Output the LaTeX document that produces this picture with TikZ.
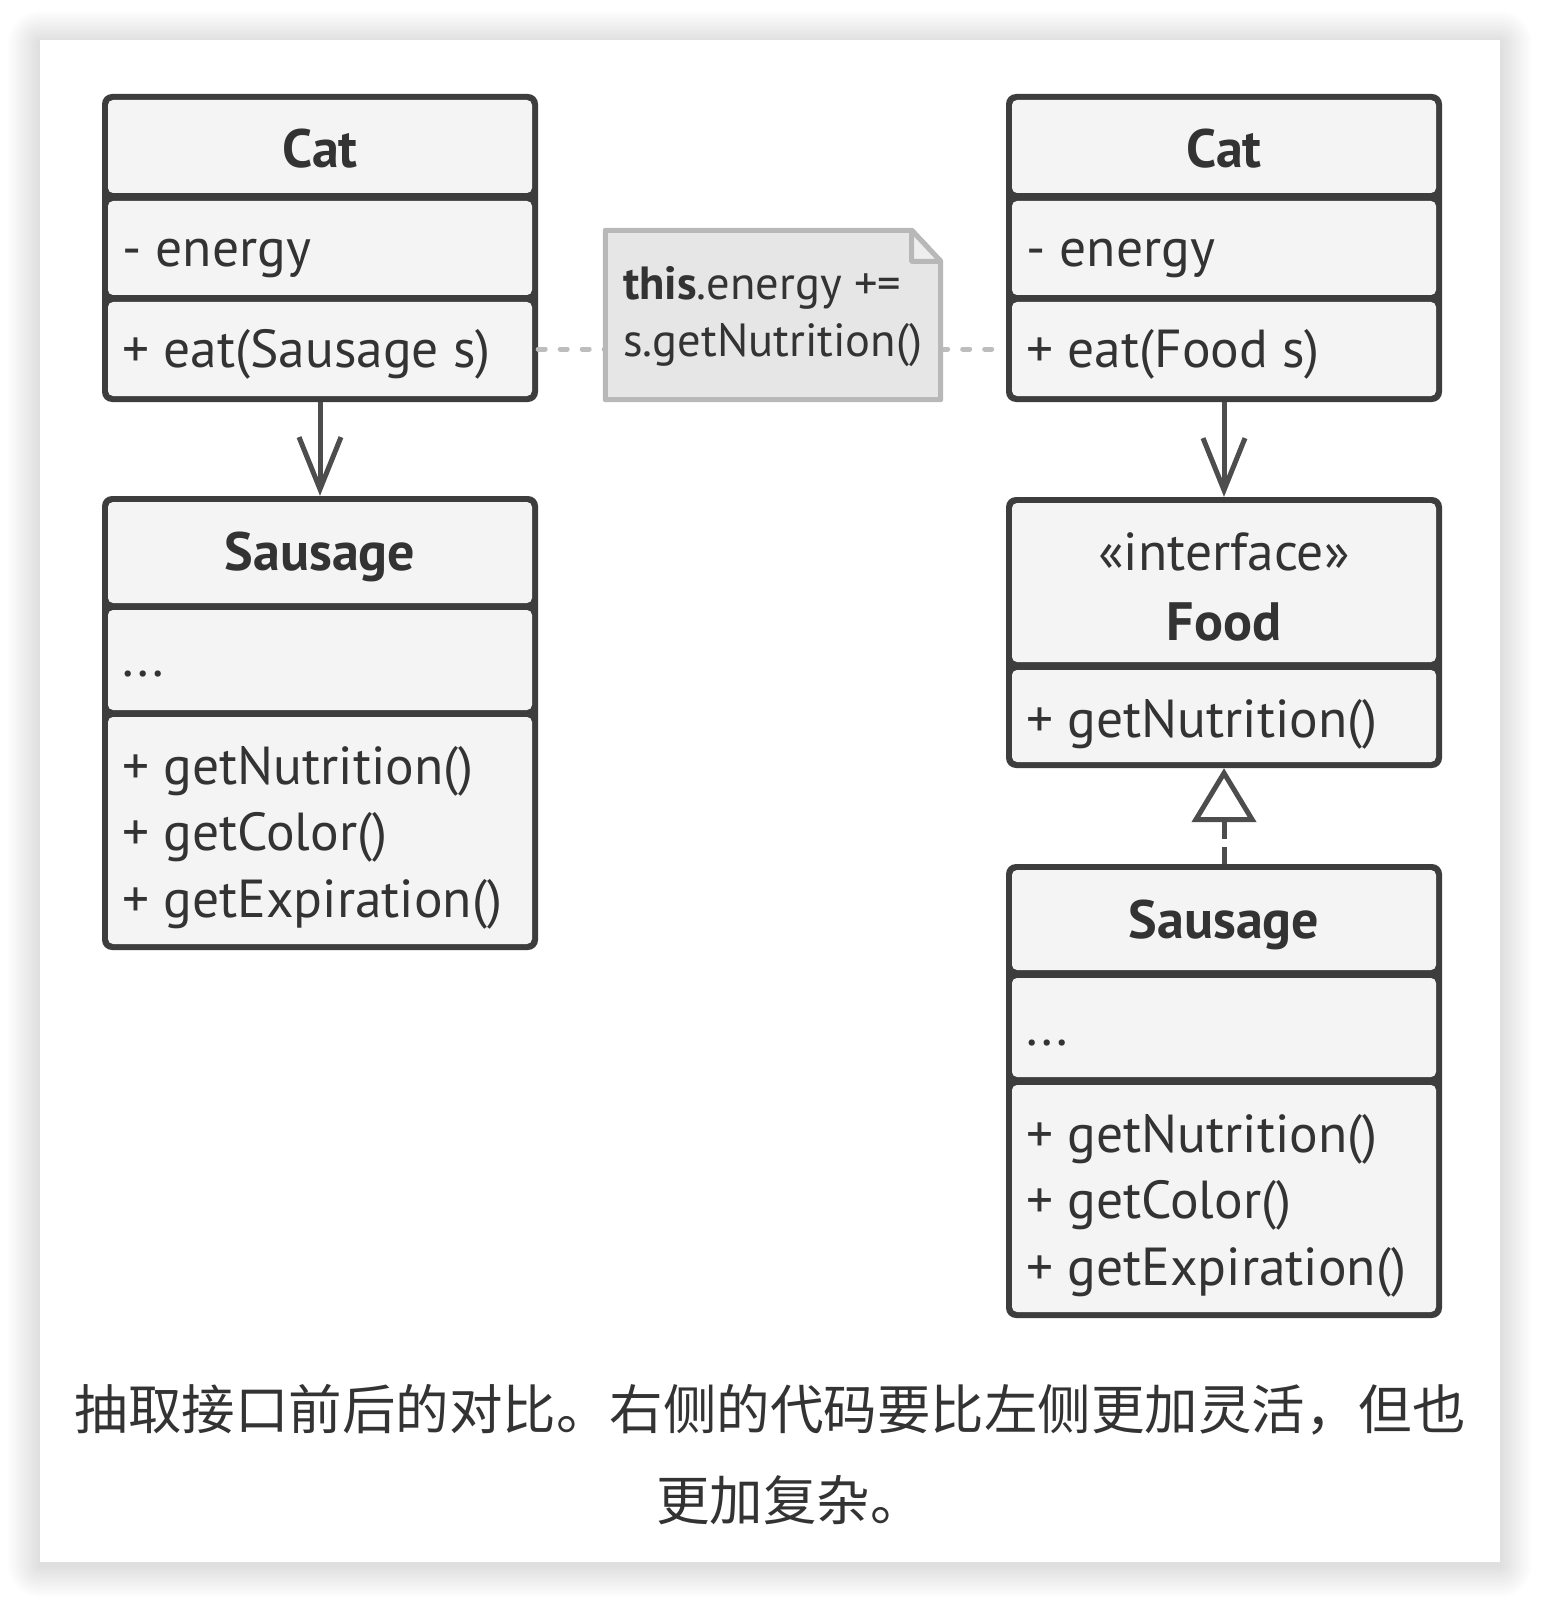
\documentclass[tikz,border=0pt]{standalone}
\usepackage{fontspec}
\setmainfont{PT Sans}
\newfontfamily\cjk{Noto Sans CJK SC}
\usetikzlibrary{arrows.meta,fit}
\definecolor{ink}{HTML}{333333}
\definecolor{boxline}{HTML}{3D3D3D}
\definecolor{compfill}{HTML}{F4F4F4}
\definecolor{arrowc}{HTML}{4D4D4D}
\definecolor{notefill}{HTML}{E6E6E6}
\definecolor{notefold}{HTML}{EEEEEE}
\definecolor{noteline}{HTML}{B8B8B8}
\definecolor{dashc}{HTML}{BDBDBD}
\tikzset{
  classbox/.style={fill=boxline, rounded corners=10pt, inner sep=0pt},
  comp/.style={fill=compfill, rounded corners=5pt, inner sep=0pt},
  classname/.style={font=\fontsize{54}{60}\selectfont\bfseries, text=ink, inner sep=0pt, anchor=base},
  stereo/.style={font=\fontsize{53.5}{60}\selectfont, text=ink, inner sep=0pt, anchor=base},
  member/.style={font=\fontsize{53.5}{66}\selectfont, text=ink, inner sep=0pt, anchor=base west},
  notetext/.style={font=\fontsize{46.5}{57}\selectfont, text=ink, inner sep=0pt, anchor=base west},
  caption/.style={font=\cjk\fontsize{53.5}{91}\selectfont, text=ink, inner sep=0pt, anchor=base},
  assoc/.style={draw=arrowc, line width=5pt, -{Straight Barb[length=52pt,width=42pt,line width=5pt]}},
  realize/.style={draw=arrowc, line width=5pt, dash pattern=on 17pt off 8pt, -{Triangle[length=54pt,width=64pt,line width=5pt,fill=white]}},
  notelink/.style={draw=dashc, line width=5pt, line cap=round, dash pattern=on 7pt off 15pt},
}
\begin{document}
\begin{tikzpicture}[x=1pt,y=-1pt]
\useasboundingbox (0,0) rectangle (1540,1602);
\fill[white] (0,0) rectangle (1540,1602);
% card shadow
\foreach \i in {1,...,16}{
  \fill[black, opacity=0.006, rounded corners=2*\i] (40-2*\i,40-2*\i+3) rectangle (1500+2*\i,1562+2*\i+3);
}
\fill[white] (40,40) rectangle (1500,1562);

% ---------- note placeholder ----------
\node[inner sep=0pt, minimum width=335pt, minimum height=169pt] (note) at (773,315) {};
% ---------- Left Cat ----------
\node[classbox, fit={(102,94) (538,402)}] (cat1) {};
\node[comp, fit={(108,100) (532,193)}] (cat1t) {};
\node[comp, fit={(108,201) (532,295)}] (cat1a) {};
\node[comp, fit={(108,302) (532,396)}] (cat1m) {};
\node[classname] (cat1n) at (320,168) {Cat};
\node[member] (cat1e) at (122,267) {- energy};
\node[member] (cat1f) at (122,367) {+ eat(Sausage s)};

% ---------- Right Cat ----------
\node[classbox, fit={(1006,94) (1442,402)}] (cat2) {};
\node[comp, fit={(1012,100) (1436,193)}] (cat2t) {};
\node[comp, fit={(1012,201) (1436,295)}] (cat2a) {};
\node[comp, fit={(1012,302) (1436,396)}] (cat2m) {};
\node[classname] (cat2n) at (1224,168) {Cat};
\node[member] (cat2e) at (1026,267) {- energy};
\node[member] (cat2f) at (1026,367) {+ eat(Food s)};

% ---------- Left Sausage ----------
\node[classbox, fit={(102,496) (538,950)}] (saus1) {};
\node[comp, fit={(108,502) (532,603)}] (saus1t) {};
\node[comp, fit={(108,610) (532,710)}] (saus1a) {};
\node[comp, fit={(108,717) (532,944)}] (saus1m) {};
\node[classname] (saus1n) at (320,570) {Sausage};
\node[member] (saus1d) at (122,676) {...};
\node[member] (saus1g1) at (122,784) {+ getNutrition()};
\node[member] (saus1g2) at (122,850) {+ getColor()};
\node[member] (saus1g3) at (122,917) {+ getExpiration()};

% ---------- Food interface ----------
\node[classbox, fit={(1006,497) (1442,768)}] (food) {};
\node[comp, fit={(1012,503) (1436,662)}] (foodt) {};
\node[comp, fit={(1012,670) (1436,762)}] (foodm) {};
\node[stereo] (foods) at (1224,570) {«interface»};
\node[classname] (foodn) at (1224,640) {Food};
\node[member] (foodg) at (1026,737) {+ getNutrition()};

% ---------- Right Sausage ----------
\node[classbox, fit={(1006,864) (1442,1318)}] (saus2) {};
\node[comp, fit={(1012,870) (1436,970)}] (saus2t) {};
\node[comp, fit={(1012,978) (1436,1077)}] (saus2a) {};
\node[comp, fit={(1012,1085) (1436,1312)}] (saus2m) {};
\node[classname] (saus2n) at (1224,938) {Sausage};
\node[member] (saus2d) at (1026,1045) {...};
\node[member] (saus2g1) at (1026,1152) {+ getNutrition()};
\node[member] (saus2g2) at (1026,1218) {+ getColor()};
\node[member] (saus2g3) at (1026,1285) {+ getExpiration()};

% ---------- note ----------
\draw[notelink] (cat1.east |- cat1m.east) -- (note.west |- cat1m.east);
\draw[notelink] (note.east |- cat2m.west) -- (cat2.west |- cat2m.west);
\draw[draw=noteline, fill=notefill, line width=5pt, line join=round]
  (note.south west) -- (note.north west) -- ([xshift=-29pt]note.north east)
  -- ([yshift=-31pt]note.north east) -- (note.south east) -- cycle;
\draw[draw=noteline, fill=notefold, line width=5pt, line join=round]
  ([xshift=-29pt]note.north east) -- ([xshift=-29pt,yshift=-31pt]note.north east)
  -- ([yshift=-31pt]note.north east) -- cycle;
\node[notetext] (note1) at (623,300) {\textbf{this}.energy +=};
\node[notetext] (note2) at (623,356) {s.getNutrition()};

% ---------- relations ----------
\draw[assoc] (cat1.south) -- (saus1.north);
\draw[assoc] (cat2.south) -- (food.north);
\draw[realize] (saus2.north) -- (food.south);

% ---------- caption ----------
\node[caption] (cap1) at (770,1429) {抽取接口前后的对比。右侧的代码要比左侧更加灵活，但也};
\node[caption] (cap2) at (790,1520) {更加复杂。};
\end{tikzpicture}
\end{document}
